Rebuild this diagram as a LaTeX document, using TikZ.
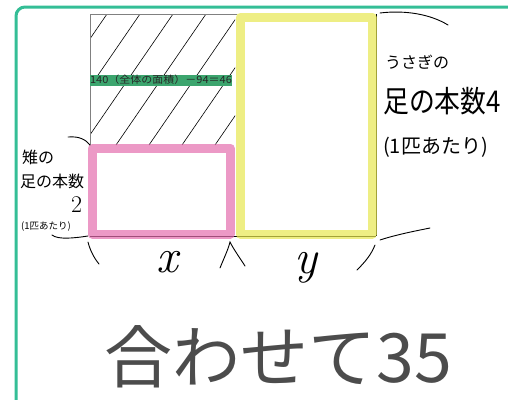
\documentclass[tikz,border=0pt]{standalone}
\usepackage{fontspec}
\usepackage{graphicx}
\newfontfamily\jp{Noto Sans CJK JP}
\definecolor{frameg}{RGB}{52,190,150}
\definecolor{barg}{RGB}{60,165,110}
\definecolor{pinkh}{RGB}{228,110,175}
\definecolor{yelh}{RGB}{232,232,80}
\tikzset{
  hand/.style={black, line width=0.9pt, line cap=round},
  hl/.style={line width=9pt, opacity=0.7, line join=round, line cap=round},
  lbl/.style={inner sep=0pt, font=\jp},
}
\begin{document}
\begin{tikzpicture}[x=1pt,y=-1pt]
\useasboundingbox (0,0) rectangle (508,399);
\fill[white] (0,0) rectangle (508,399);
% frame
\begin{scope}
\clip (0,0) rectangle (508,399);
\draw[frameg, line width=3pt, rounded corners=9pt] (16,420) -- (16,7) -- (530,7);
\end{scope}
% hatched region
\begin{scope}
\clip (90,14) rectangle (235,145);
\foreach \k in {-3,...,6} {
  \draw[black, line width=0.6pt] ({107+33*\k},14) -- ({107+33*\k-90},145);
}
\end{scope}
\draw[gray, line width=0.8pt] (90,145) -- (90,14) -- (237,14);
% green bar label
\node[lbl, fill=barg, minimum width=138pt, minimum height=11pt, font=\jp\fontsize{10}{10}\selectfont, text=black!85] (bar) at (161,80) {\scalebox{1.1}[1]{140（全体の面積）－94＝46}};
% thin lines
\draw[black, line width=0.7pt] (90,236) -- (376,236);
\draw[black, line width=0.7pt] (376,14) -- (376,236);
% pink rectangle
\draw[hl, pinkh] (92,148) rectangle (230,234);
% yellow rectangle
\draw[hl, yelh] (240,17) rectangle (372,234);
% right labels
\node[lbl, anchor=west, font=\jp\fontsize{16}{16}\selectfont] (r1) at (385,62) {うさぎの};
\node[lbl, anchor=west, font=\jp\fontsize{30}{30}\selectfont] (r2) at (383,101) {\scalebox{0.86}[1]{足の本数4}};
\node[lbl, anchor=west, font=\jp\fontsize{20}{20}\selectfont] (r3) at (383,147) {(1匹あたり)};
% left labels
\node[lbl, anchor=west, font=\jp\fontsize{16}{16}\selectfont] (l1) at (22,157) {雉の};
\node[lbl, anchor=west, font=\jp\fontsize{16}{16}\selectfont] (l2) at (20,181) {足の本数};
\node[lbl, anchor=west, font=\fontsize{24}{24}\selectfont] (l3) at (71,205) {2};
\node[lbl, anchor=west, font=\jp\fontsize{9.5}{9.5}\selectfont] (l4) at (21,227) {(1匹あたり)};
% curves to corners
\coordinate (pinkTL) at (90,145);
\coordinate (pinkBL) at (88,236);
\coordinate (yelTR) at (380,13);
\coordinate (yelBR) at (380,240);
\coordinate (c1) at (68,137);
\coordinate (c2) at (52,235);
\coordinate (c3) at (448,25);
\coordinate (c4) at (430,228);
\draw[hand] (c1) .. controls (80,136) and (86,140) .. (pinkTL);
\draw[hand] (c2) .. controls (58,240) and (75,238) .. (pinkBL);
\draw[hand] (yelTR) .. controls (405,10) and (430,14) .. (c3);
\draw[hand] (yelBR) .. controls (395,235) and (415,231) .. (c4);
% under braces
\draw[hand] (88,242) .. controls (90,250) and (94,258) .. (99,264);
\draw[hand] (220,268) .. controls (224,258) and (228,250) .. (230,242) .. controls (234,250) and (240,258) .. (245,266);
\draw[hand] (375,245) .. controls (371,255) and (365,262) .. (357,270);
\node[lbl, font=\itshape\fontsize{48}{48}\selectfont] (xl) at (167,262) {x};
\node[lbl, font=\itshape\fontsize{48}{48}\selectfont] (yl) at (306,268) {y};
% bottom text
\node[lbl, text=black!70, font=\jp\fontsize{68}{68}\selectfont] (tot) at (278,357) {合わせて35};
\end{tikzpicture}
\end{document}
